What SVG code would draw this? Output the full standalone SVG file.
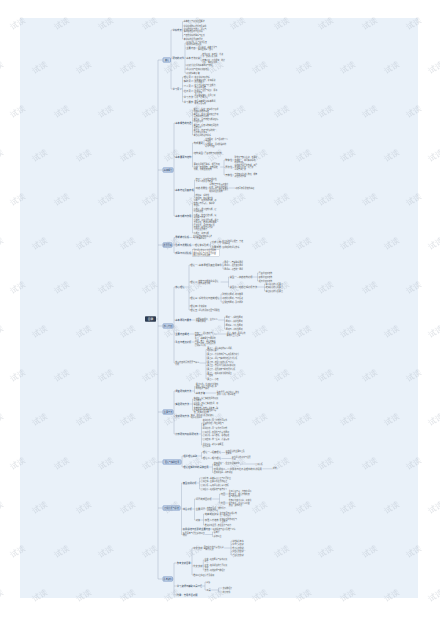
<svg xmlns="http://www.w3.org/2000/svg" width="440" height="620" viewBox="0 0 440 620">
<defs>
<style>
.t{font-family:"Noto Sans CJK SC","Noto Sans",sans-serif;font-size:1.9px;fill:#555555}
.lb{font-size:2.3px}
.l2{font-size:2.3px;fill:#2b3b52}
.ml{font-size:2px}
.c{fill:none;stroke:#8c9bb0;stroke-width:0.35}
.n1 rect{fill:#c7d7ed;stroke:#5a7cb2;stroke-width:0.5}
.n1 text{font-family:"Noto Sans CJK SC","Noto Sans",sans-serif;font-size:2.1px;fill:#1e3960;text-anchor:middle}
.wm{font-family:"Noto Sans CJK SC","Noto Sans",sans-serif;font-size:8px;fill:#9aa6b4;opacity:0.3}
</style>
<pattern id="wmp" patternUnits="userSpaceOnUse" width="44" height="88">
<text class="wm" x="12" y="30" transform="rotate(-30 12 30)">试读</text>
<text class="wm" x="-10" y="74" transform="rotate(-30 -10 74)">试读</text>
<text class="wm" x="34" y="74" transform="rotate(-30 34 74)">试读</text>
</pattern>
</defs>
<rect width="440" height="620" fill="#ffffff"/>
<rect x="20" y="18" width="398" height="580" fill="#e9f1f9"/>

<g id="connectors" class="c">
<path d="M156,319H158M158,60V579M158,60H163M158,170H163M158,245H163M158,326H163M158,412H163M158,462H163M158,508H163M158,579H163"/>
<path d="M170.5,60H171M171,30V89M171,30H172M171,58H172M171,89H172"/>
<path d="M182,30H182.5M182.5,21.7V39M182.5,21.7H183.5M182.5,26H183.5M182.5,30H183.5M182.5,35.7H183.5M182.5,39H183.5"/>
<path d="M184.2,58H185M185,43V73M185,43H186M185,48H186M185,57.7H186M185,65H186M185,69H186M185,73H186M195.8,48H197.5M200.3,57.7H201M201,55V61M201,55H202M201,61H202"/>
<path d="M182,89H182.5M182.5,77V102M182.5,77H183.5M182.5,81H183.5M182.5,86H183.5M182.5,91H183.5M182.5,96.7H183.5M182.5,102H183.5M193.3,77H194.3M193.3,81H194.3M193.3,86H194.3M193.3,91H194.3M193.3,96.7H194.3M193.3,102H194.3"/>
<path d="M173,170H174M174,123V216M174,123H175M174,156.7H175M174,190H175M174,216H175"/>
<path d="M191.7,123H192.5M192.5,110V135M192.5,110H193.5M192.5,115H193.5M192.5,120.5H193.5M192.5,126H193.5M192.5,131H193.5M192.5,135H193.5"/>
<path d="M191.7,156.7H192.5M192.5,143V167M192.5,143H193.5M192.5,153H193.5M192.5,167H193.5M203.3,143H204M204,140V145M204,140H205M204,145H205M203.3,153H204.3M220.2,167H224M224,160V175M224,160H225M224,167.5H225M224,175H225M232.5,160H234M232.5,167.5H234M232.5,175H234"/>
<path d="M193.7,190H194.5M194.5,180V198M194.5,180H195.5M194.5,188H195.5M194.5,195H195.5M194.5,198H195.5M207.6,188H209M228.8,188H235"/>
<path d="M191.7,216H192.5M192.5,203V233M192.5,203H193.5M192.5,210H193.5M192.5,216H193.5M192.5,225H193.5M192.5,233H193.5"/>
<path d="M172,245H174M174,237.5V253M174,237.5H175M174,245H175M174,253H175M189.4,237.5H192.5M191.7,245H194.5M209,245H210.5M210.5,242V247M210.5,242H211.5M210.5,247H211.5M221.3,242H222M221.3,247H222M191.7,253H192.5"/>
<path d="M173,326H174M174,287V363M174,287H175M174,320H175M174,334H175M174,342H175M174,363H175"/>
<path d="M184.8,287H189M189,265V310M189,265H190M189,282H190M189,298H190M189,306H190M189,310H190M197.5,265H198.5M222.1,265H223M223,262V269M223,262H224M223,265.7H224M223,269H224M197.5,282H198M220.6,282H228.5M228.5,277V287M228.5,277H229.5M228.5,287H229.5M251.5,277H257.5M257.5,273V281M257.5,273H258.5M257.5,277H258.5M257.5,281H258.5M256.5,287H264.5M264.5,284V291M264.5,284H265.5M264.5,287.5H265.5M264.5,291H265.5M197.5,298H198.5M219.9,298H221M221,294V302M221,294H222M221,298H222M221,302H222M197.5,306H198.5M197.5,310H198.5"/>
<path d="M191.7,320H195.5M218.1,320H224.5M224.5,317V329M224.5,317H225.5M224.5,321H225.5M224.5,325H225.5M224.5,329H225.5M189.4,334H194.5M213.1,334H226.5M191.7,342H194.5M199.6,363H206M206,349.5V379M206,349.5H207M206,354H207M206,358H207M206,362H207M206,365.5H207M206,369H207M206,374H207M206,379H207"/>
<path d="M173,412H174M174,391V434M174,391H175M174,404H175M174,416.5H175M174,434H175M191.7,391H194.5M194.5,386.5V393M194.5,386.5H195.5M194.5,393H195.5M205.3,393H216.5M189.4,404H192.5M192.5,399V410.3M192.5,399H193.5M192.5,404H193.5M192.5,410.3H193.5M189.4,416.5H190.5M198.6,434H201.5M201.5,423V445M201.5,423H202.5M201.5,428H202.5M201.5,432H202.5M201.5,435.5H202.5M201.5,439H202.5M201.5,445H202.5"/>
<path d="M181,462H182M182,456V467M182,456H183M182,467H183M197.4,456H201.5M201.5,452.5V458.5M201.5,452.5H202.5M201.5,458.5H202.5M221.5,452.5H225.5M221.5,458.5H231.5M208.9,467H212.5M212.5,464V472.5M212.5,464H213.5M212.5,468.8H213.5M212.5,472.5H213.5M240.1,464H255M262.5,468.8H272.5"/>
<path d="M180,508H181.5M181.5,483V534.5M181.5,483H182.5M181.5,509H182.5M181.5,529H182.5M181.5,534.5H182.5M197,483H199.5M199.5,478V489M199.5,478H200.5M199.5,481.5H200.5M199.5,485H200.5M199.5,489H200.5M192.3,509H194.5M194.5,499V520M194.5,499H195.5M194.5,509H195.5M194.5,520H195.5M212.3,499H219.5M219.5,494V503M219.5,494H220.5M219.5,503H220.5M225.7,494H228.5M225.7,503H228.5M205.3,509H206.5M200.7,520H203.5M203.5,514V525M203.5,514H204.5M203.5,520H204.5M203.5,525H204.5M218.9,514H219.5M218.9,520H219.5M210.7,529H212.5M205.1,534.5H212.5M212.5,532V536.5M212.5,532H213.5M212.5,536.5H213.5"/>
<path d="M172.5,579H174M174,563V595M174,563H176.5M174,586H176.5M174,595H176.5M190.9,563H192M192,548V575M192,548H193M192,566H193M192,575H193M202.8,548H203.5M224.1,548H231M231,541V555M231,541H232M231,544.5H232M231,548H232M231,551.5H232M231,555H232M202.8,566H203.3M203.3,560V570M203.3,560H204.3M203.3,566H204.3M203.3,570H204.3M202.4,586H205M205,582V590M205,582H206M205,590H206M211.2,590H218.5M218.5,588V592M218.5,588H222.5M218.5,592H222.5"/>
</g>

<g id="n0"><rect x="145" y="316.2" width="11" height="5.6" rx="0.8" fill="#2e3d52"/><text x="150.5" y="320" fill="#ffffff" font-size="2.8" text-anchor="middle" font-family="Noto Sans CJK SC, sans-serif">目录</text></g>

<g id="n1" class="n1"><rect x="163" y="57.8" width="7.5" height="4.4" rx="0.6"/><text x="166.75" y="60.8">绪论</text></g>
<g id="n2" class="n1"><rect x="163" y="167.8" width="10" height="4.4" rx="0.6"/><text x="168" y="170.8">基本概念</text></g>
<g id="n3" class="n1"><rect x="163" y="242.8" width="9" height="4.4" rx="0.6"/><text x="167.5" y="245.8">发展历程</text></g>
<g id="n4" class="n1"><rect x="163" y="323.8" width="10" height="4.4" rx="0.6"/><text x="168" y="326.8">核心内容</text></g>
<g id="n5" class="n1"><rect x="163" y="409.8" width="10" height="4.4" rx="0.6"/><text x="168" y="412.8">主要方法</text></g>
<g id="n6" class="n1"><rect x="163" y="459.8" width="18" height="4.4" rx="0.6"/><text x="172" y="462.8">理论与实践应用</text></g>
<g id="n7" class="n1"><rect x="163" y="505.8" width="17" height="4.4" rx="0.6"/><text x="171.5" y="508.8">案例分析与总结</text></g>
<g id="n8" class="n1"><rect x="163" y="576.8" width="9.5" height="4.4" rx="0.6"/><text x="167.75" y="579.8">参考资料</text></g>

<g id="branch1">
<text id="n1a" class="t l2" x="172.5" y="30.8">学科背景</text>
<text id="n1b" class="t l2" x="172.5" y="58.8">研究的对象</text>
<text id="n1c" class="t l2" x="172.5" y="89.8">学习意义</text>
<text class="t" x="183.8" y="22.35">基本定义与研究范围概述</text>
<text class="t" x="183.8" y="26.65">学科形成的历史背景及条件</text>
<text class="t" x="183.8" y="29.55">学科的性质与特点，理论与<tspan x="183.8" dy="2.2">实践相结合的综合学科</tspan></text>
<text class="t" x="183.8" y="36.35">与其他学科的联系与区别</text>
<text class="t" x="183.8" y="39.65">本学科的发展趋势展望</text>
<text class="t" x="186.3" y="42.55">研究对象—社会现象及其<tspan x="186.3" dy="2.2">规律的系统性研究</tspan></text>
<text class="t lb" x="186.3" y="48.8">主要内容</text>
<text class="t" x="198" y="47.55">理论基础、基本方法与<tspan x="198" dy="2.2">实际应用三个部分</tspan></text>
<text class="t lb" x="186.3" y="58.5">基本方法分类</text>
<text class="t" x="202.3" y="54.55">定性研究：观察法、访谈<tspan x="202.3" dy="2.2">法、文献分析法等</tspan></text>
<text class="t" x="202.3" y="60.55">定量研究：问卷调查、统计<tspan x="202.3" dy="2.2">分析、实验研究等</tspan></text>
<text class="t" x="186.3" y="65.65">研究方法选择的基本原则与依据</text>
<text class="t" x="186.3" y="69.65">理论研究与应用研究相结合</text>
<text class="t" x="186.3" y="73.65">研究的基本步骤</text>
<text class="t lb" x="183.8" y="77.8">理论意义</text><text class="t" x="194.6" y="77.65">完善学科知识体系</text>
<text class="t lb" x="183.8" y="81.8">实践意义</text><text class="t" x="194.6" y="80.55">指导实际工作，提高解决<tspan x="194.6" dy="2.2">问题的能力</tspan></text>
<text class="t lb" x="183.8" y="86.8">个人意义</text><text class="t" x="194.6" y="85.55">提升综合素质与专业能力，<tspan x="194.6" dy="2.2">培养科学思维</tspan></text>
<text class="t lb" x="183.8" y="91.8">社会意义</text><text class="t" x="194.6" y="90.55">促进社会发展与进步，服务<tspan x="194.6" dy="2.2">经济建设</tspan></text>
<text class="t lb" x="183.8" y="97.5">学习方法</text><text class="t" x="194.6" y="96.25">理论联系实际，注重案例<tspan x="194.6" dy="2.2">分析与课堂讨论</tspan></text>
<text class="t lb" x="183.8" y="102.8">学习要求</text><text class="t" x="194.6" y="101.55">掌握基本概念和基本原理，<tspan x="194.6" dy="2.2">能够灵活运用</tspan></text>
</g>

<g id="branch2">
<text id="n2a" class="t l2" x="175.3" y="123.8">基本概念的内涵</text>
<text id="n2b" class="t l2" x="175.3" y="157.5">基本要素与结构</text>
<text id="n2c" class="t l2" x="175.3" y="190.8">基本特征及其表现</text>
<text id="n2d" class="t l2" x="175.3" y="216.8">基本功能与作用</text>
<text class="t" x="193.8" y="109.55">概念一：指在一定条件下形成<tspan x="193.8" dy="2.2">的相对稳定的系统</tspan></text>
<text class="t" x="193.8" y="114.55">概念二：由多个要素相互作用<tspan x="193.8" dy="2.2">而构成的有机整体</tspan></text>
<text class="t" x="193.8" y="120.05">概念三：具有特定功能和目标<tspan x="193.8" dy="2.2">的组织形式</tspan></text>
<text class="t" x="193.8" y="125.55">概念四：反映事物本质属性的<tspan x="193.8" dy="2.2">思维形式</tspan></text>
<text class="t" x="193.8" y="130.55">概念五：内涵与外延的统一，<tspan x="193.8" dy="2.2">二者成反比关系</tspan></text>
<text class="t" x="193.8" y="135.65">概念之间的逻辑关系</text>
<text class="t lb" x="193.8" y="143.8">构成要素</text>
<text class="t" x="205.3" y="139.55">主体要素：参与活动的个人<tspan x="205.3" dy="2.2">与组织</tspan></text>
<text class="t" x="205.3" y="144.55">客体要素：活动所指向的<tspan x="205.3" dy="2.2">对象与内容</tspan></text>
<text class="t lb" x="193.8" y="153.8">结构类型</text><text class="t" x="204.6" y="153.65">层级结构与网络结构</text>
<text class="t ml" x="193.8" y="165.35">要素之间相互联系、相互作用<tspan x="193.8" dy="2.35">形成一定的结构，结构决定</tspan><tspan x="193.8" dy="2.35">功能，功能反映结构</tspan></text>
<text class="t lb" x="225.3" y="160.8">整体性</text><text class="t" x="234.5" y="158.45">整体大于部分之和，各要素<tspan x="234.5" dy="2.2">协调统一，共同实现系统</tspan><tspan x="234.5" dy="2.2">的整体目标</tspan></text>
<text class="t lb" x="225.3" y="168.3">层次性</text><text class="t" x="234.5" y="165.95">系统由不同层次构成，高层<tspan x="234.5" dy="2.2">次支配低层次，低层次</tspan><tspan x="234.5" dy="2.2">从属于高层次</tspan></text>
<text class="t lb" x="225.3" y="175.8">开放性</text><text class="t" x="234.5" y="174.55">与外部环境进行物质、能量<tspan x="234.5" dy="2.2">和信息的交换</tspan></text>
<text class="t" x="195.8" y="179.55">特征一：客观性与规律性，<tspan x="195.8" dy="2.2">不以人的意志为转移</tspan></text>
<text class="t lb" x="195.8" y="188.8">动态发展性</text>
<text class="t" x="209.3" y="185.35">事物处于不断运动变化<tspan x="209.3" dy="2.2">之中，需用发展的眼光</tspan><tspan x="209.3" dy="2.2">看待问题，把握其变化</tspan><tspan x="209.3" dy="2.2">规律和发展趋势</tspan></text>
<text class="t" x="235.3" y="188.65">动态平衡是稳定的基础</text>
<text class="t" x="195.8" y="195.65">特征三：系统性</text>
<text class="t" x="195.8" y="198.65">特征四：相对独立性</text>
<text class="t" x="193.8" y="201.45">功能一：组织协调功能，使<tspan x="193.8" dy="2.2">各部分有序运行，实现整</tspan><tspan x="193.8" dy="2.2">体目标</tspan></text>
<text class="t" x="193.8" y="209.55">功能二：调节控制功能，保<tspan x="193.8" dy="2.2">持系统稳定</tspan></text>
<text class="t" x="193.8" y="215.55">功能三：信息传递功能，促<tspan x="193.8" dy="2.2">进沟通与交流</tspan></text>
<text class="t" x="193.8" y="221.25">功能四：创新发展功能。通过<tspan x="193.8" dy="2.2">不断创新，推动事物向更高</tspan><tspan x="193.8" dy="2.2">层次发展，适应外部环境</tspan><tspan x="193.8" dy="2.2">的变化，增强竞争力和</tspan><tspan x="193.8" dy="2.2">可持续发展能力</tspan></text>
<text class="t" x="193.8" y="233.65">功能五：教育功能</text>
</g>

<g id="branch3">
<text id="n3a" class="t l2" x="175.3" y="238.3">早期萌芽阶段</text>
<text id="n3b" class="t l2" x="175.3" y="245.8">形成与发展阶段</text>
<text id="n3c" class="t l2" x="175.3" y="253.8">成熟与创新阶段</text>
<text class="t" x="193" y="237.05">古代思想家的相关论述<tspan x="193" dy="2.2">与早期实践探索</tspan></text>
<text class="t lb" x="194.8" y="245.8">理论体系形成</text>
<text class="t lb" x="211.8" y="242.8">代表人物</text><text class="t" x="222.3" y="241.55">提出系统理论框架，奠定<tspan x="222.3" dy="2.2">学科基础</tspan></text>
<text class="t lb" x="211.8" y="247.8">主要成果</text><text class="t" x="222.3" y="247.65">形成完整的理论体系</text>
<rect x="192.5" y="249.5" width="27" height="7" fill="#ffffff" stroke="#8c9bb0" stroke-width="0.3"/>
<text class="t" x="193.2" y="251.45">当代理论的多元化发展趋势，<tspan x="193.2" dy="2.2">跨学科融合与创新发展日益</tspan><tspan x="193.2" dy="2.2">数字化时代的新趋势</tspan></text>
</g>

<g id="branch4">
<text id="n4a" class="t l2" x="175.3" y="287.8">核心理论</text>
<text id="n4b" class="t l2" x="175.3" y="320.8">基本原则与要求</text>
<text id="n4c" class="t l2" x="175.3" y="334.8">主要内容概述</text>
<text id="n4d" class="t l2" x="175.3" y="342.8">重点与难点分析</text>
<text id="n4e" class="t ml" x="175.3" y="362.5" fill="#2b3b52">核心内容的具体展开与深入<tspan x="175.3" dy="2.35">分析</tspan></text>
<text class="t lb" x="190.3" y="265.8">理论一</text><text class="t lb" x="198.8" y="265.8">基本原理及其应用条件</text>
<text class="t" x="224.3" y="262.65">原理一—普遍联系原理</text>
<text class="t" x="224.3" y="266.35">原理二—发展变化原理</text>
<text class="t" x="224.3" y="269.65">原理三—矛盾统一原理</text>
<text class="t lb" x="190.3" y="282.8">理论二</text><text class="t ml" x="198.3" y="281.5">结构与功能的关系理论，<tspan x="198.3" dy="2.35">结构决定功能</tspan></text>
<text class="t lb" x="229.8" y="277.8">类型一—静态结构分析</text>
<text class="t" x="258.8" y="273.65">层级式组织结构</text>
<text class="t" x="258.8" y="277.65">职能式组织结构</text>
<text class="t" x="258.8" y="281.65">矩阵式组织结构</text>
<text class="t lb" x="229.8" y="287.8">类型二—动态过程分析方法</text>
<text class="t" x="265.8" y="284.65">输入阶段的分析要点</text>
<text class="t" x="265.8" y="288.15">转换阶段的分析要点</text>
<text class="t" x="265.8" y="291.65">输出阶段的分析要点</text>
<text class="t lb" x="190.3" y="298.8">理论三</text><text class="t lb" x="198.8" y="298.8">系统优化与控制理论</text>
<text class="t" x="222.3" y="294.65">整体优化原则—统筹兼顾</text>
<text class="t" x="222.3" y="298.65">动态优化原则—与时俱进</text>
<text class="t" x="222.3" y="302.65">反馈控制原则—及时调整</text>
<text class="t lb" x="190.3" y="306.8">理论四</text><text class="t" x="198.8" y="306.65">补充说明</text>
<text class="t lb" x="190.3" y="310.8">理论五</text><text class="t" x="198.8" y="310.65">理论的适用范围与局限性</text>
<text class="t ml" x="195.8" y="319.5">遵循客观规律，坚持以人<tspan x="195.8" dy="2.35">为本的原则</tspan></text>
<text class="t" x="225.8" y="317.65">原则一—系统性原则</text>
<text class="t" x="225.8" y="321.65">原则二—科学性原则</text>
<text class="t" x="225.8" y="325.65">原则三—可行性原则</text>
<text class="t" x="225.8" y="329.65">原则四—创新性原则</text>
<text class="t ml" x="194.8" y="333.5">内容一：理论部分与<tspan x="194.8" dy="2.35">实践部分</tspan></text>
<text class="t" x="226.8" y="333.55">理论—实践—再理论的<tspan x="226.8" dy="2.2">螺旋式上升过程</tspan></text>
<text class="t" x="194.8" y="339.35">重点：基本概念与原理的<tspan x="194.8" dy="2.2">理解；难点：理论的实际</tspan><tspan x="194.8" dy="2.2">运用与创新，需结合具体</tspan><tspan x="194.8" dy="2.2">案例深入分析</tspan></text>
<text class="t" x="207.3" y="349.05">要点一—理论基础的深入理解，<tspan x="207.3" dy="2.2">把握核心要义</tspan></text>
<text class="t" x="207.3" y="354.65">要点二—方法的掌握与运用及能力提升</text>
<text class="t" x="207.3" y="358.65">要点三—理论与实践的结合方式分析</text>
<text class="t" x="207.3" y="362.65">要点四—典型案例的分析与讨论</text>
<text class="t" x="207.3" y="366.15">要点五—常见问题及解决对策研究</text>
<text class="t" x="207.3" y="369.65">要点六—发展趋势与前景展望分析</text>
<text class="t" x="207.3" y="373.55">要点七—相关政策法规的解读<tspan x="207.3" dy="2.2">与应用</tspan></text>
<text class="t" x="207.3" y="379.65">要点八—小结</text>
</g>

<g id="branch5">
<text id="n5a" class="t l2" x="175.3" y="391.8">调查研究的方法</text>
<text id="n5b" class="t l2" x="175.3" y="404.8">实验研究方法</text>
<text id="n5c" class="t l2" x="175.3" y="417.3">文献研究方法</text>
<text id="n5d" class="t l2" x="175.3" y="434.8">比较研究与案例研究法</text>
<text class="t" x="195.8" y="384.95">通过问卷、访谈等方式收集<tspan x="195.8" dy="2.2">资料，对社会现象进行系</tspan><tspan x="195.8" dy="2.2">统的描述与解释</tspan></text>
<text class="t lb" x="195.8" y="393.8">基本步骤</text><text class="t" x="216.8" y="392.55">确定课题—设计方案—收集<tspan x="216.8" dy="2.2">资料—分析—撰写报告</tspan></text>
<text class="t" x="193.8" y="398.55">实验组—接受实验处理的研究<tspan x="193.8" dy="2.2">对象群体</tspan></text>
<text class="t" x="193.8" y="403.55">对照组—不接受实验处理，用<tspan x="193.8" dy="2.2">于比较分析</tspan></text>
<text class="t" x="193.8" y="408.75">变量控制—控制无关变量，确<tspan x="193.8" dy="2.2">保实验结果的有效性和可靠</tspan><tspan x="193.8" dy="2.2">性，提高研究质量</tspan></text>
<text class="t" x="190.8" y="416.05">查阅、整理和分析文献资料，<tspan x="190.8" dy="2.2">把握研究现状</tspan></text>
<text class="t" x="202.8" y="421.45">横向比较—同一时期不同对象<tspan x="202.8" dy="2.2">之间的比较，找出共性与</tspan><tspan x="202.8" dy="2.2">差异</tspan></text>
<text class="t" x="202.8" y="428.65">纵向比较—同一对象不同时期</text>
<text class="t" x="202.8" y="432.65">案例选择—典型性与代表性原则</text>
<text class="t" x="202.8" y="436.15">案例分析—深入剖析，总结经验</text>
<text class="t" x="202.8" y="439.65">案例应用—举一反三，迁移运用</text>
<text class="t" x="202.8" y="444.55">注意事项—避免以偏概全，<tspan x="202.8" dy="2.2">保持客观</tspan></text>
</g>

<g id="branch6">
<text id="n6a" class="t l2" x="183.3" y="456.8">相关理论基础</text>
<text id="n6b" class="t l2" x="183.3" y="467.8">理论在实践中的具体应用</text>
<text class="t lb" x="202.8" y="453.3">理论一—经典理论</text><text class="t" x="225.8" y="452.05">经典理论的主要观点及<tspan x="225.8" dy="2.2">其影响</tspan></text>
<text class="t lb" x="202.8" y="459.3">理论二—现代理论</text><text class="t" x="231.8" y="458.05">现代理论的创新与发展<tspan x="231.8" dy="2.2">方向</tspan></text>
<text class="t ml" x="213.8" y="463.5">应用领域一—企业管理实践中<tspan x="213.8" dy="2.35">的运用</tspan></text>
<text class="t" x="255.3" y="464.65">案例分析</text>
<text class="t lb" x="213.8" y="469.6">应用领域二—公共服务与社会治理中的创新运用</text>
<text class="t" x="272.8" y="469.45">成效</text>
<text class="t" x="213.8" y="473.15">应用领域三—教育领域</text>
</g>

<g id="branch7">
<text id="n7a" class="t l2" x="182.8" y="483.8">典型案例分析</text>
<text id="n7b" class="t l2" x="182.8" y="509.8">综合分析</text>
<text id="n7c" class="t l2" x="182.8" y="529.8">案例总结与反思的主要内容</text>
<text id="n7d" class="t ml" x="182.8" y="534" fill="#2b3b52">拓展思考与课后延伸阅读<tspan x="182.8" dy="2.35">材料</tspan></text>
<text class="t" x="200.8" y="478.65">案例背景—基本情况介绍与问题提出</text>
<text class="t" x="200.8" y="482.15">案例过程—主要事件发展的经过</text>
<text class="t" x="200.8" y="485.65">案例分析—运用理论进行深入剖析</text>
<text class="t" x="200.8" y="489.65">案例启示—经验总结与借鉴意义</text>
<text class="t lb" x="195.8" y="499.8">问题的成因分析</text>
<text class="t lb" x="220.8" y="494.8">内因</text><text class="t" x="228.8" y="492.45">主观认识不足，内部管理机<tspan x="228.8" dy="2.2">制不健全，缺乏有效的激</tspan><tspan x="228.8" dy="2.2">励与约束机制</tspan></text>
<text class="t lb" x="220.8" y="503.8">外因</text><text class="t" x="228.8" y="501.45">外部环境变化迅速，政策法<tspan x="228.8" dy="2.2">规不完善，市场竞争日益</tspan><tspan x="228.8" dy="2.2">激烈，资源约束</tspan></text>
<text class="t lb" x="195.8" y="509.8">主要问题</text><text class="t" x="206.8" y="508.55">结构不合理、效率低下、<tspan x="206.8" dy="2.2">创新能力不足</tspan></text>
<text class="t lb" x="195.8" y="520.8">对策</text>
<text class="t lb" x="204.8" y="514.8">完善制度建设</text><text class="t" x="219.8" y="513.55">建立健全各项规章制<tspan x="219.8" dy="2.2">度，规范运行</tspan></text>
<text class="t lb" x="204.8" y="520.8">加强人才培养</text><text class="t" x="219.8" y="519.55">提高队伍整体素质与<tspan x="219.8" dy="2.2">专业能力</tspan></text>
<text class="t" x="204.8" y="525.65">推进创新发展—激发活力与动力</text>
<text class="t" x="212.8" y="529.65">经验总结与启示及推广价值</text>
<text class="t" x="213.8" y="532.65">思考题</text>
<text class="t" x="213.8" y="537.15">延伸阅读</text>
</g>

<g id="branch8">
<text id="n8a" class="t l2" x="176.8" y="563.8">参考文献目录</text>
<text id="n8b" class="t l2" x="176.8" y="586.8">学习资源与辅助工具介绍</text>
<text id="n8c" class="t l2" x="176.8" y="595.8">附录：常用术语对照</text>
<text class="t lb" x="193.3" y="548.8">中文文献</text><text class="t ml" x="203.8" y="547.5">国内学者的代表性论著<tspan x="203.8" dy="2.35">与期刊论文</tspan></text>
<text class="t" x="232.3" y="541.65">教材类参考书</text>
<text class="t" x="232.3" y="545.15">学术专著文献</text>
<text class="t" x="232.3" y="548.65">期刊论文文献</text>
<text class="t" x="232.3" y="552.15">学位论文文献</text>
<text class="t" x="232.3" y="555.65">会议论文文献</text>
<text class="t lb" x="193.3" y="566.8">外文文献</text>
<text class="t" x="204.6" y="559.55">英文—经典原著与最新研究<tspan x="204.6" dy="2.2">成果</tspan></text>
<text class="t" x="204.6" y="565.55">日文—相关领域的专题研究<tspan x="204.6" dy="2.2">文献</tspan></text>
<text class="t" x="204.6" y="570.65">其他—网络资源与数据库</text>
<text class="t" x="193.3" y="575.65">推荐阅读书目清单及说明</text>
<text class="t" x="206.3" y="582.65">视频</text>
<text class="t lb" x="206.3" y="590.8">工具</text>
<text class="t" x="222.8" y="588.65">文献数据库</text>
<text class="t" x="222.8" y="592.65">统计软件</text>
</g>

<rect width="440" height="620" fill="url(#wmp)"/>
</svg>
